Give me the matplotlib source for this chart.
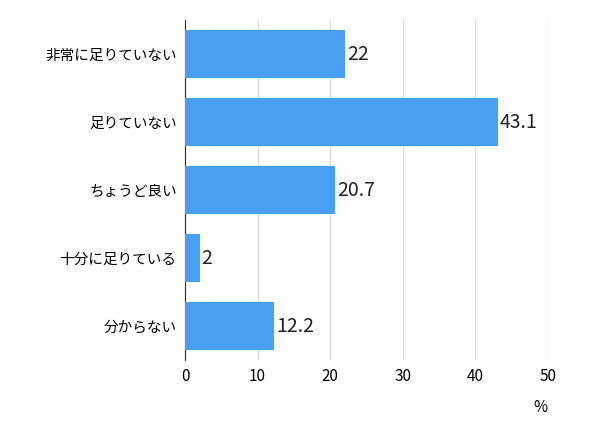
import matplotlib
matplotlib.use("Agg")
import matplotlib.pyplot as plt

plt.rcParams['font.family'] = ['Noto Sans CJK JP', 'DejaVu Sans']

categories = ["非常に足りていない", "足りていない", "ちょうど良い", "十分に足りている", "分からない"]
values = [22, 43.1, 20.7, 2, 12.2]
labels = ["22", "43.1", "20.7", "2", "12.2"]
xticks = [0, 10, 20, 30, 40, 50]

fig = plt.figure(figsize=(5.9, 4.28), dpi=100)
ax = fig.add_axes([185/590, 1-360/428, 363/590, 340/428])
pos = list(range(len(categories)))[::-1]
ax.barh(pos, values, height=0.7, color="#4a9ff5", zorder=3)
for p, v, l in zip(pos, values, labels):
    ax.text(v + 0.3, p, l, va="center", ha="left", fontsize=14, color="#222222")
ax.set_yticks(pos)
ax.set_yticklabels(categories, fontsize=10.5)
ax.set_xticks(xticks)
ax.set_xticklabels([str(t) for t in xticks], fontsize=11)
ax.set_xlim(0, 50)
ax.set_ylim(-0.5, 4.5)
ax.grid(axis="x", color="#dddddd", linewidth=1, zorder=0)
for s in ["top", "right", "bottom"]:
    ax.spines[s].set_visible(False)
ax.spines["left"].set_color("#333333")
ax.tick_params(length=0, pad=6)
fig.text(540/590, 1-408/428, "%", ha="center", va="center", fontsize=11)
fig.savefig("out.png", dpi=100)
